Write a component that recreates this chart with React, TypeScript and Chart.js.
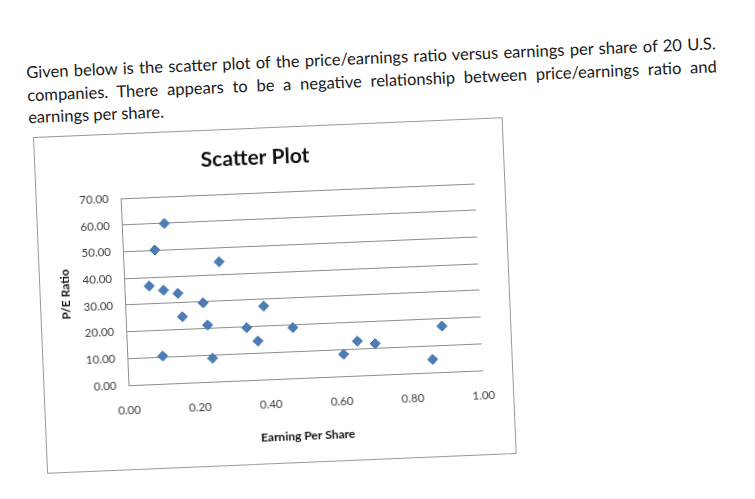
import React, { useRef, useEffect } from 'react';
import { Chart, registerables } from 'chart.js';

Chart.register(...registerables);

// earnings per share (x) and P/E ratio (y) of the 20 companies
const earningsPerShare = [0.12, 0.09, 0.07, 0.11, 0.15, 0.16, 0.22, 0.23, 0.24, 0.27, 0.34, 0.37, 0.39, 0.47, 0.61, 0.65, 0.70, 0.86, 0.89, 0.10];
const peRatio = [60.0, 50.2, 36.8, 35.0, 33.6, 24.8, 29.7, 21.3, 8.8, 44.8, 19.7, 14.5, 27.5, 19.0, 8.2, 12.9, 11.7, 4.9, 17.2, 10.4];

const introLines = [
  'Given below is the scatter plot of the price/earnings ratio versus earnings per share of 20 U.S.',
  'companies. There appears to be a negative relationship between price/earnings ratio and',
  'earnings per share.',
];

const chartTitle = 'Scatter Plot';
const xTitle = 'Earning Per Share';
const yTitle = 'P/E Ratio';

const FONT = 'Lato, "Open Sans", sans-serif';

const ScatterChart: React.FC = () => {
  const canvasRef = useRef<HTMLCanvasElement>(null);

  useEffect(() => {
    if (!canvasRef.current) return;
    const points = earningsPerShare.map((x, i) => ({ x, y: peRatio[i] }));

    const chart = new Chart(canvasRef.current, {
      type: 'scatter',
      data: {
        datasets: [
          {
            label: 'P/E Ratio',
            data: points,
            pointStyle: 'rectRot',
            pointRadius: 5,
            backgroundColor: '#4a7db8',
            borderColor: '#3d6ca3',
            borderWidth: 1,
          },
        ],
      },
      options: {
        responsive: false,
        animation: false,
        layout: { padding: { left: 0, right: 28, top: 0, bottom: 0 } },
        plugins: {
          legend: { display: false },
          tooltip: { enabled: false },
          title: {
            display: true,
            text: chartTitle,
            color: '#111',
            font: { family: FONT, size: 21, weight: 'bold' },
            padding: { top: 17, bottom: 22 },
          },
        },
        scales: {
          x: {
            type: 'linear',
            min: 0,
            max: 1,
            afterFit: (scale: any) => {
              scale.height = 84;
            },
            grid: { display: false, drawTicks: false },
            border: { display: true, color: '#8c8c8c', width: 1 },
            ticks: {
              stepSize: 0.2,
              padding: 18,
              color: '#3c3c3c',
              font: { family: FONT, size: 11.5 },
              callback: (v: any) => Number(v).toFixed(2),
            },
            title: {
              display: true,
              text: xTitle,
              color: '#111',
              font: { family: FONT, size: 12, weight: 'bold' },
              padding: { top: 0, bottom: 19 },
            },
          },
          y: {
            type: 'linear',
            min: 0,
            max: 70,
            afterFit: (scale: any) => {
              scale.width = 84;
            },
            grid: { color: '#8c8c8c', lineWidth: 1, drawTicks: false },
            border: { display: true, color: '#8c8c8c', width: 1 },
            ticks: {
              stepSize: 10,
              padding: 12,
              color: '#3c3c3c',
              font: { family: FONT, size: 11.5 },
              callback: (v: any) => Number(v).toFixed(2),
            },
            title: {
              display: true,
              text: yTitle,
              color: '#111',
              font: { family: FONT, size: 12, weight: 'bold' },
              padding: { top: 18, bottom: 0 },
            },
          },
        },
      },
    });

    return () => {
      chart.destroy();
    };
  }, []);

  return <canvas ref={canvasRef} width={468} height={335} style={{ position: 'absolute', left: 0, top: 0 }} />;
};

export default function App() {
  return (
    <div
      style={{
        position: 'absolute',
        left: 0,
        top: 0,
        width: 755,
        height: 499,
        overflow: 'hidden',
        background: '#ffffff',
        fontFamily: FONT,
      }}
    >
      <div
        style={{
          position: 'absolute',
          left: 33,
          top: 137,
          transform: 'rotate(-2.4deg)',
          transformOrigin: '0 0',
        }}
      >
        {introLines.map((line, i) => (
          <div
            key={i}
            style={{
              position: 'absolute',
              left: -4,
              top: -76 + i * 22.5,
              width: 690,
              height: 23,
              lineHeight: '23px',
              fontSize: 16.5,
              color: '#1a1a1a',
              whiteSpace: 'nowrap',
              textAlign: i < introLines.length - 1 ? 'justify' : 'left',
              textAlignLast: i < introLines.length - 1 ? 'justify' : 'left',
            }}
          >
            {line}
          </div>
        ))}
        <div
          style={{
            position: 'absolute',
            left: 0,
            top: 0,
            width: 470,
            height: 337,
            boxSizing: 'border-box',
            border: '1px solid #9a9a9a',
            background: '#fff',
          }}
        >
          <ScatterChart />
        </div>
      </div>
    </div>
  );
}
